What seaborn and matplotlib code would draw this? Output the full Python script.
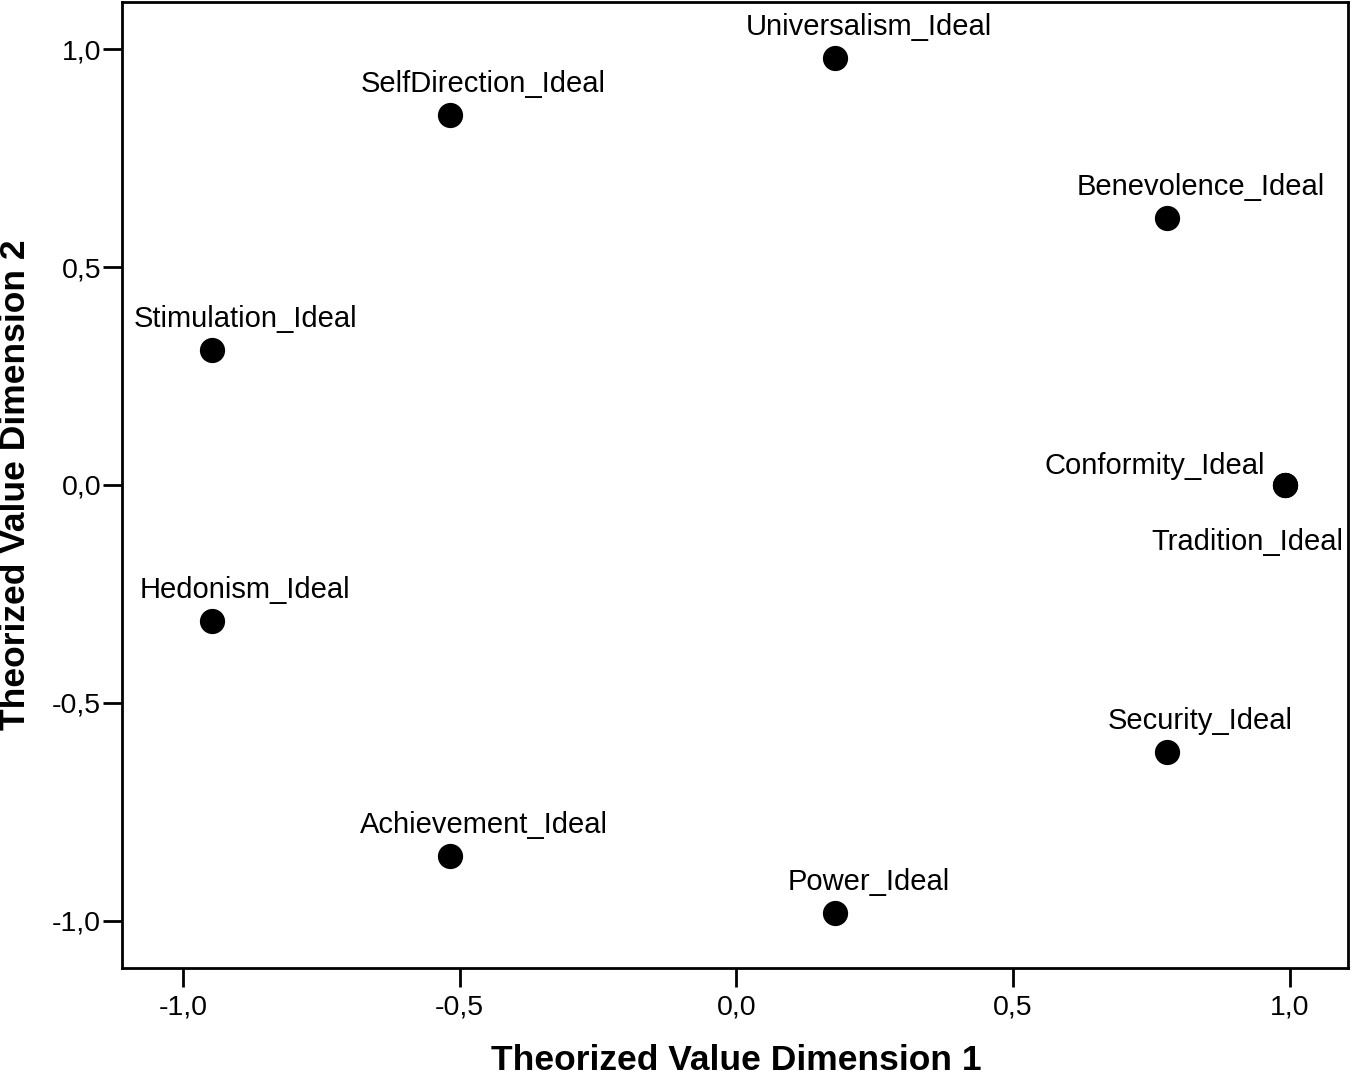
import matplotlib
matplotlib.use("Agg")
import matplotlib.pyplot as plt
import seaborn as sns
import pandas as pd

names = ["Universalism_Ideal", "SelfDirection_Ideal", "Benevolence_Ideal",
         "Stimulation_Ideal", "Conformity_Ideal", "Tradition_Ideal",
         "Hedonism_Ideal", "Security_Ideal", "Achievement_Ideal", "Power_Ideal"]
dim1 = [0.179, -0.517, 0.778, -0.948, 0.991, 0.991, -0.948, 0.778, -0.517, 0.179]
dim2 = [0.979, 0.849, 0.612, 0.310, 0.0, 0.0, -0.312, -0.612, -0.851, -0.982]
xticks = [-1.0, -0.5, 0.0, 0.5, 1.0]
yticks = [-1.0, -0.5, 0.0, 0.5, 1.0]
tick_labels = ["-1,0", "-0,5", "0,0", "0,5", "1,0"]

df = pd.DataFrame({"name": names, "d1": dim1, "d2": dim2})

sns.set_style("white")
plt.rcParams['font.family'] = ['Liberation Sans', 'DejaVu Sans']
plt.rcParams['text.color'] = 'black'
plt.rcParams['axes.labelcolor'] = 'black'

fig = plt.figure(figsize=(13.52, 10.74), dpi=100)
ax = fig.add_axes([122/1352, 1 - 968/1074, (1348-122)/1352, (968-2)/1074])
sns.scatterplot(data=df, x="d1", y="d2", ax=ax, s=330, color="black",
                edgecolor="black", linewidth=0, zorder=3)

fs = 21
for n, x, y in zip(names, dim1, dim2):
    if n == "Conformity_Ideal":
        ax.annotate(n, (x, y), xytext=(-14, 14), textcoords="offset points",
                    ha="right", va="center", fontsize=fs, color="black")
    elif n == "Tradition_Ideal":
        ax.annotate(n, (x, y), xytext=(-27, -41), textcoords="offset points",
                    ha="center", va="center", fontsize=fs, color="black")
    else:
        ax.annotate(n, (x, y), xytext=(24, 22.5), textcoords="offset points",
                    ha="center", va="center", fontsize=fs, color="black")

ax.set_xlim(-1.110, 1.105)
ax.set_ylim(-1.108, 1.108)
ax.set_xticks(xticks)
ax.set_xticklabels(tick_labels)
ax.set_yticks(yticks)
ax.set_yticklabels(tick_labels)
ax.tick_params(axis="both", direction="out", length=14, width=2, labelsize=20.5,
               color="black", labelcolor="black", bottom=True, left=True)
ax.tick_params(axis="x", pad=5)
ax.tick_params(axis="y", pad=1)
for sp in ax.spines.values():
    sp.set_linewidth(2)
    sp.set_color("black")
ax.set_xlabel("Theorized Value Dimension 1", fontsize=25.5, fontweight="bold",
              color="black", va="center")
ax.set_ylabel("Theorized Value Dimension 2", fontsize=25.5, fontweight="bold",
              color="black", va="center")
ax.xaxis.set_label_coords((736-122)/1226, (968-1060)/966)
ax.yaxis.set_label_coords((16-122)/1226, (968-485)/966)
ax.grid(False)

fig.savefig("out.png", dpi=100)
